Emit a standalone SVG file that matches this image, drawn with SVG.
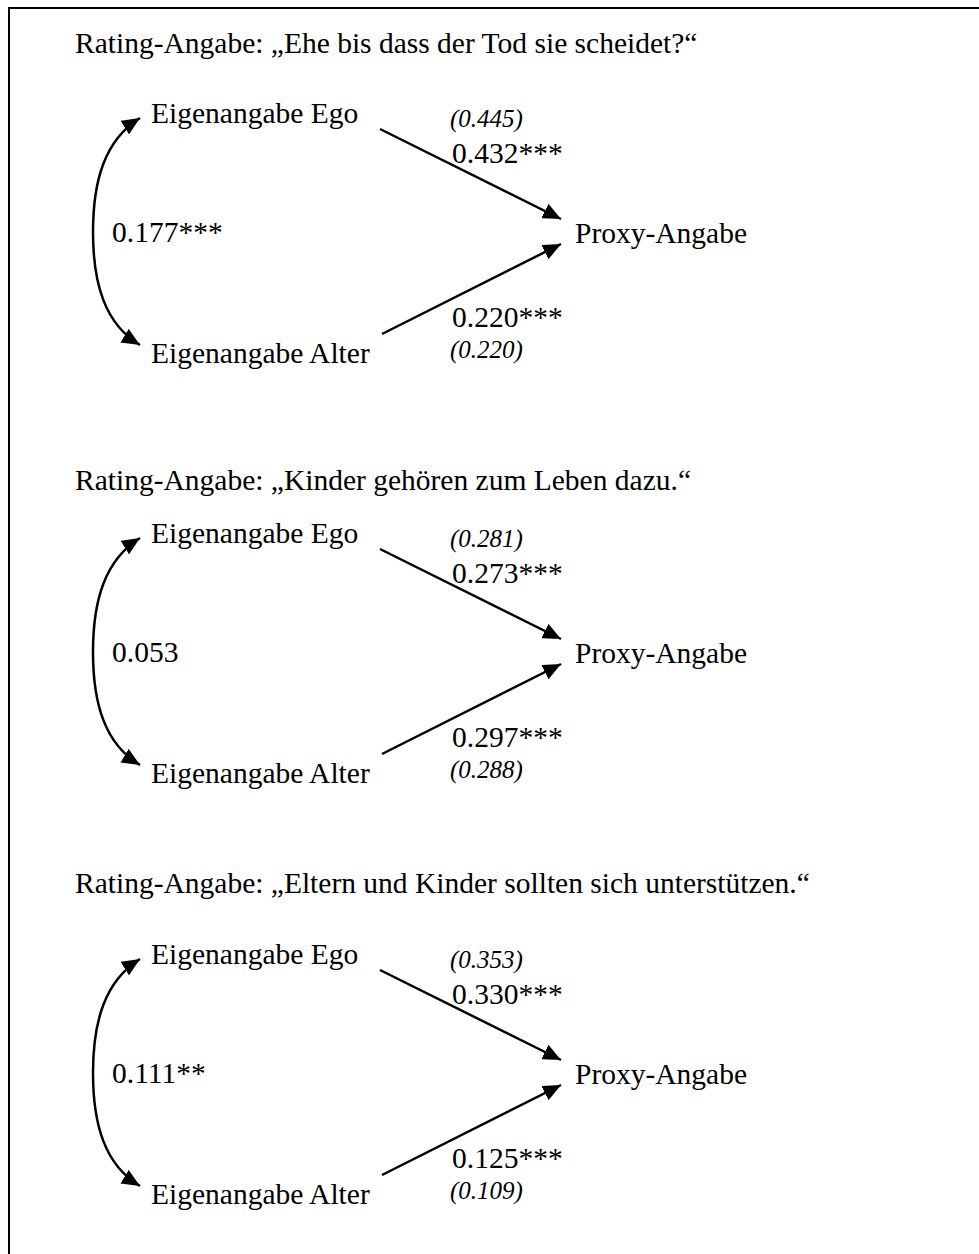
<svg xmlns="http://www.w3.org/2000/svg" width="979" height="1254" viewBox="0 0 979 1254">
<style>
text{font-family:"Liberation Serif","Times New Roman",serif;fill:#000}
.t{font-size:29.5px}
.i{font-size:25px;font-style:italic}
.c{fill:none;stroke:#000;stroke-width:2.5}
</style>
<defs>
<marker id="ah" markerUnits="userSpaceOnUse" markerWidth="20" markerHeight="16" refX="18" refY="8" orient="auto-start-reverse" viewBox="0 0 20 16">
<path d="M0,0 L18,8 L0,16 z" fill="#000"/>
</marker>
</defs>
<rect x="9" y="8" width="1000" height="1300" fill="#fff" stroke="#000" stroke-width="2"/>

<g id="section1">
<text class="t" x="75" y="53">Rating-Angabe: „Ehe bis dass der Tod sie scheidet?“</text>
<g id="s1-ego"><text class="t" x="151" y="123">Eigenangabe Ego</text></g>
<g id="s1-alter"><text class="t" x="151" y="363">Eigenangabe Alter</text></g>
<g id="s1-proxy"><text class="t" x="575" y="243">Proxy-Angabe</text></g>
<g id="s1-connectors">
<path class="c" d="M140,118 C105,140 93,180 93,232 C93,284 105,324 140,345" marker-start="url(#ah)" marker-end="url(#ah)"/>
<line class="c" x1="380" y1="129" x2="561" y2="219" marker-end="url(#ah)"/>
<line class="c" x1="382" y1="334" x2="561" y2="244" marker-end="url(#ah)"/>
<text class="t" x="112" y="242">0.177***</text>
<text class="i" x="450" y="127">(0.445)</text>
<text class="t" x="452" y="163">0.432***</text>
<text class="t" x="452" y="327">0.220***</text>
<text class="i" x="450" y="358">(0.220)</text>
</g>
</g>

<g id="section2">
<text class="t" x="75" y="490">Rating-Angabe: „Kinder gehören zum Leben dazu.“</text>
<g id="s2-ego"><text class="t" x="151" y="543">Eigenangabe Ego</text></g>
<g id="s2-alter"><text class="t" x="151" y="783">Eigenangabe Alter</text></g>
<g id="s2-proxy"><text class="t" x="575" y="663">Proxy-Angabe</text></g>
<g id="s2-connectors">
<path class="c" d="M140,538 C105,560 93,600 93,652 C93,704 105,744 140,765" marker-start="url(#ah)" marker-end="url(#ah)"/>
<line class="c" x1="380" y1="549" x2="561" y2="639" marker-end="url(#ah)"/>
<line class="c" x1="382" y1="754" x2="561" y2="664" marker-end="url(#ah)"/>
<text class="t" x="112" y="662">0.053</text>
<text class="i" x="450" y="547">(0.281)</text>
<text class="t" x="452" y="583">0.273***</text>
<text class="t" x="452" y="747">0.297***</text>
<text class="i" x="450" y="778">(0.288)</text>
</g>
</g>

<g id="section3">
<text class="t" x="75" y="893">Rating-Angabe: „Eltern und Kinder sollten sich unterstützen.“</text>
<g id="s3-ego"><text class="t" x="151" y="964">Eigenangabe Ego</text></g>
<g id="s3-alter"><text class="t" x="151" y="1204">Eigenangabe Alter</text></g>
<g id="s3-proxy"><text class="t" x="575" y="1084">Proxy-Angabe</text></g>
<g id="s3-connectors">
<path class="c" d="M140,959 C105,981 93,1021 93,1073 C93,1125 105,1165 140,1186" marker-start="url(#ah)" marker-end="url(#ah)"/>
<line class="c" x1="380" y1="970" x2="561" y2="1060" marker-end="url(#ah)"/>
<line class="c" x1="382" y1="1175" x2="561" y2="1085" marker-end="url(#ah)"/>
<text class="t" x="112" y="1083">0.111**</text>
<text class="i" x="450" y="968">(0.353)</text>
<text class="t" x="452" y="1004">0.330***</text>
<text class="t" x="452" y="1168">0.125***</text>
<text class="i" x="450" y="1199">(0.109)</text>
</g>
</g>
</svg>
